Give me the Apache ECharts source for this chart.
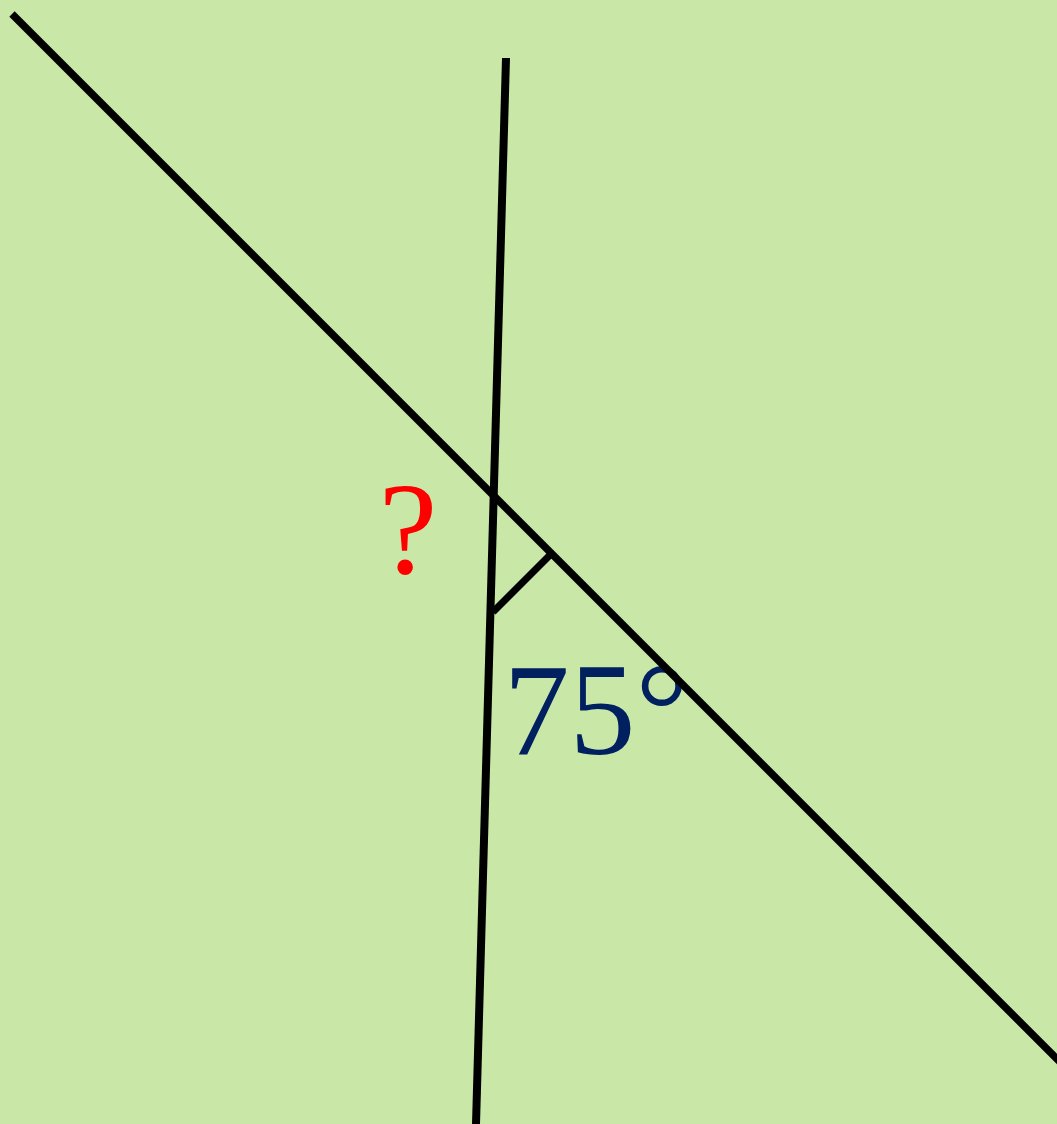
<!DOCTYPE html>
<html>
<head>
<meta charset="utf-8">
<script src="https://cdn.jsdelivr.net/npm/echarts@6/dist/echarts.min.js"></script>
<style>
  html, body { margin: 0; padding: 0; background: #c9e7a7; }
  #chart { width: 1057px; height: 1124px; }
</style>
</head>
<body>
<div id="chart"></div>
<script>
// line end points, in picture pixels
const diagLine = [[12, 14], [1064, 1066]];
const steepLine = [[506, 58], [476, 1124]];
const footLine = [[550, 555], [493, 612]];
// text labels: [x, y, text]
const unknownLabel = [408, 538, "?"];
const angleLabel = [596, 719, "75°"];

let chart = echarts.init(document.getElementById("chart"));

function seg(data, width) {
  return {
    type: "line",
    data: data,
    symbol: "none",
    lineStyle: { color: "#000", width: width, cap: "butt" },
    silent: true,
    animation: false
  };
}

function txt(item, color) {
  return {
    type: "scatter",
    symbolSize: 0,
    data: [[item[0], item[1]]],
    itemStyle: { opacity: 1 },
    label: {
      show: true,
      position: "inside",
      formatter: item[2],
      color: color,
      opacity: 1,
      fontFamily: "'Liberation Serif', 'Times New Roman', serif",
      fontSize: 132
    },
    silent: true,
    animation: false
  };
}

let option = {
  backgroundColor: "#c9e7a7",
  grid: { left: 0, right: 0, top: 0, bottom: 0 },
  xAxis: { type: "value", min: 0, max: 1057, show: false },
  yAxis: { type: "value", min: 0, max: 1124, inverse: true, show: false },
  series: [
    seg(diagLine, 7.5),
    seg(steepLine, 8),
    seg(footLine, 7),
    txt(unknownLabel, "#ff0000"),
    txt(angleLabel, "#002060")
  ]
};

chart.setOption(option);
</script>
</body>
</html>
